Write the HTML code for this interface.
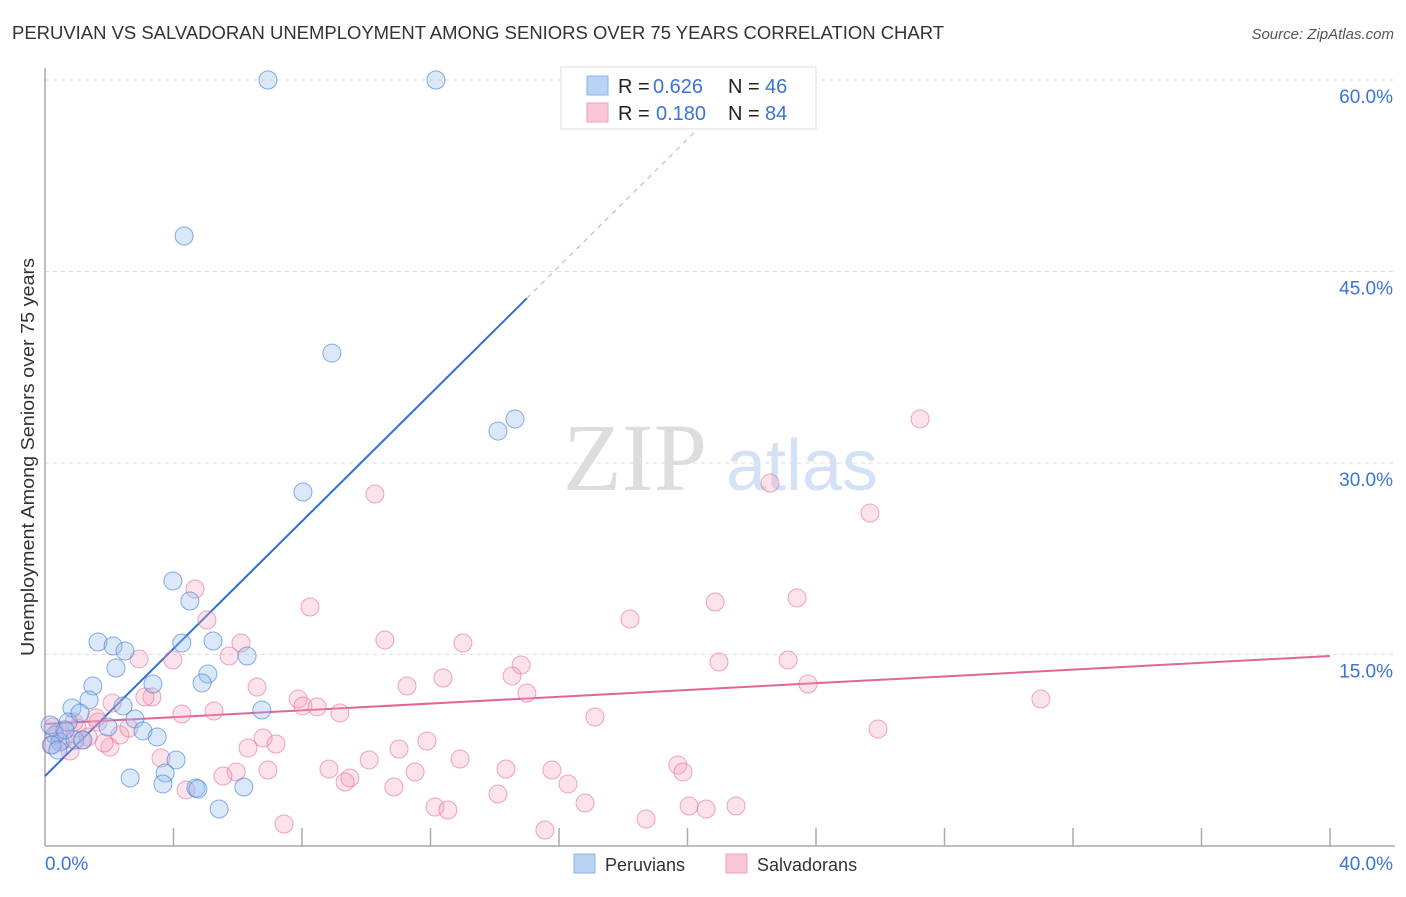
<!DOCTYPE html>
<html><head><meta charset="utf-8"><style>
body{margin:0;background:#fff;font-family:"Liberation Sans",sans-serif}
svg text{font-family:"Liberation Sans",sans-serif}
</style></head><body>
<svg id="chart" width="1406" height="892" xmlns="http://www.w3.org/2000/svg">
<text x="12" y="39" font-size="18" fill="#333" textLength="932" lengthAdjust="spacingAndGlyphs">PERUVIAN VS SALVADORAN UNEMPLOYMENT AMONG SENIORS OVER 75 YEARS CORRELATION CHART</text>
<text x="1394" y="39" font-size="15" fill="#555" text-anchor="end" font-style="italic">Source: ZipAtlas.com</text>
<text x="0" y="0" transform="translate(34,457) rotate(-90)" font-size="18" fill="#333" text-anchor="middle" textLength="398" lengthAdjust="spacingAndGlyphs">Unemployment Among Seniors over 75 years</text>
<g>
<text x="635" y="490" font-size="96" fill="#ddd" text-anchor="middle" font-family="Liberation Serif" style="font-family:'Liberation Serif',serif">ZIP</text>
<text x="802" y="490" font-size="72" fill="#d4e2f5" text-anchor="middle">atlas</text>
</g>
<g id="grid"></g><g id="axes"></g><g id="lines"></g><g id="pts"></g>
<g>
<rect x="561" y="67" width="255" height="62" fill="#fff" stroke="#ddd"/>
<rect x="587" y="76" width="21" height="19" fill="#b9d3f5" stroke="#8fb4e8"/>
<rect x="587" y="103" width="21" height="19" fill="#f9c7d6" stroke="#eea0b8"/>
<text x="618" y="93" font-size="20" fill="#222">R =</text>
<text x="653" y="93" font-size="20" fill="#3a74d4">0.626</text>
<text x="728" y="93" font-size="20" fill="#222">N =</text>
<text x="765" y="93" font-size="20" fill="#3a74d4">46</text>
<text x="618" y="120" font-size="20" fill="#222">R =</text>
<text x="656" y="120" font-size="20" fill="#3a74d4">0.180</text>
<text x="728" y="120" font-size="20" fill="#222">N =</text>
<text x="765" y="120" font-size="20" fill="#3a74d4">84</text>
</g>
<g>
<rect x="574" y="854" width="21" height="19" fill="#b9d3f5" stroke="#8fb4e8"/>
<text x="605" y="871" font-size="18" fill="#333">Peruvians</text>
<rect x="726" y="854" width="21" height="19" fill="#f9c7d6" stroke="#eea0b8"/>
<text x="757" y="871" font-size="18" fill="#333">Salvadorans</text>
</g>
</svg>
<script>
const yTicks=[15,30,45,60];
const yTickLabels=["15.0%","30.0%","45.0%","60.0%"];
const xTicks=[4,8,12,16,20,24,28,32,36,40];
const xAxisLabels=["0.0%","40.0%"];
const peruX=[6.94,12.17,4.33,8.93,14.10,14.63,8.03,3.98,4.51,1.65,2.12,2.49,4.26,5.23,6.29,2.21,5.07,1.49,3.36,4.89,1.37,0.84,2.43,6.75,0.72,2.80,1.96,3.05,3.49,4.08,2.65,3.74,3.67,4.70,4.76,6.19,5.42,1.09,0.31,0.47,0.22,0.93,1.18,0.62,0.16,0.40];
const peruY=[60.0,60.0,47.78,38.61,32.5,33.45,27.73,20.76,19.19,15.98,15.67,15.27,15.90,16.06,14.88,13.94,13.47,12.53,12.69,12.77,11.44,10.81,10.97,10.65,9.71,9.95,9.32,9.01,8.54,6.74,5.33,5.72,4.86,4.54,4.46,4.62,2.90,10.42,8.69,8.15,7.91,8.30,8.30,9.09,9.48,7.52];
const salvX=[27.24,10.27,22.57,25.68,4.67,8.25,5.04,18.21,20.86,23.41,6.10,10.58,13.01,3.98,2.93,5.73,14.82,20.98,23.13,12.39,11.27,14.54,23.75,6.60,7.88,3.33,3.11,5.26,4.26,8.03,8.47,9.18,15.00,17.12,31.00,25.93,2.09,6.79,7.19,6.32,3.61,2.02,1.84,11.89,12.92,11.02,10.09,14.35,15.78,19.70,19.86,8.84,6.94,5.95,5.54,9.49,9.34,10.86,11.52,14.10,16.28,16.81,20.05,20.58,21.51,18.71,12.14,12.54,7.44,15.56,4.39,1.00,1.59,1.15,0.56,0.40,0.78,0.25,0.19,2.33,2.61,1.34,1.65,0.90];
const salvY=[33.45,27.57,28.43,26.08,20.13,18.72,17.70,17.78,19.11,19.43,15.90,16.14,15.90,14.57,14.65,14.88,14.18,14.41,14.57,13.16,12.53,13.32,12.69,12.45,11.51,11.67,11.67,10.57,10.34,10.97,10.89,10.42,11.98,10.10,11.51,9.16,11.20,8.46,7.99,7.68,6.89,7.75,8.07,8.22,6.81,7.60,6.74,6.03,5.95,6.34,5.80,6.03,5.95,5.80,5.48,5.33,5.01,4.62,5.80,4.07,4.86,3.37,3.13,2.90,3.13,2.11,3.05,2.82,1.72,1.25,4.39,9.24,10.03,8.30,8.30,8.85,7.44,9.32,7.91,8.69,9.24,8.54,9.71,9.71];
const peruFit=[5.48,42.9];
const salvFit=[9.56,14.88];
const NS="http://www.w3.org/2000/svg";
const X=v=>45+v/40*1285, Y=v=>846-v*12.767;
function mk(tag,attrs,parent){const e=document.createElementNS(NS,tag);for(const k in attrs)e.setAttribute(k,attrs[k]);document.getElementById(parent).appendChild(e);return e;}
yTicks.forEach((t,i)=>{
 const g=mk('line',{x1:45,x2:1395,y1:Y(t),y2:Y(t),stroke:'#ddd','stroke-dasharray':'4,4'},'grid');
 
 
 const l=mk('text',{x:1393,y:Y(t)+23,'font-size':19,fill:'#3a74d4','text-anchor':'end'},'axes');
 l.textContent=yTickLabels[i];
 
 
});
const ya=mk('line',{x1:45,x2:45,y1:68,y2:846,stroke:'#aaa','stroke-width':1.5},'axes');


const xa=mk('line',{x1:45,x2:1395,y1:846,y2:846,stroke:'#aaa','stroke-width':1.5},'axes');


xTicks.forEach(t=>{
 const k=mk('line',{x1:X(t),x2:X(t),y1:828,y2:846,stroke:'#aaa','stroke-width':1.5},'axes');
 
 
});
[[0,'start',45],[1,'end',1393]].forEach(([i,a,x])=>{
 const l=mk('text',{x:x,y:870,'font-size':19,fill:'#3a74d4','text-anchor':a},'axes');
 l.textContent=xAxisLabels[i];
 
 
});
const slope=(peruFit[1]-peruFit[0])/15;
const b1=mk('line',{x1:X(0),y1:Y(peruFit[0]),x2:X(15),y2:Y(peruFit[1]),stroke:'#2d6fd6','stroke-width':2},'lines');


const xe=(60-peruFit[0])/slope;
const b2=mk('line',{x1:X(15),y1:Y(peruFit[1]),x2:X(xe-1.5),y2:Y(peruFit[0]+slope*(xe-1.5)),stroke:'#9bb8e6','stroke-width':1,'stroke-dasharray':'5,5'},'lines');


const p1=mk('line',{x1:X(0),y1:Y(salvFit[0]),x2:X(40),y2:Y(salvFit[1]),stroke:'#e0659a','stroke-width':2},'lines');


salvX.forEach((x,i)=>{
 const c=mk('circle',{cx:X(x),cy:Y(salvY[i]),r:9,fill:'rgba(244,160,186,0.3)',stroke:'rgba(226,110,150,0.6)','stroke-width':1},'pts');
 
 
});
peruX.forEach((x,i)=>{
 const c=mk('circle',{cx:X(x),cy:Y(peruY[i]),r:9,fill:'rgba(150,190,240,0.35)',stroke:'rgba(60,120,210,0.6)','stroke-width':1},'pts');
 
 
});
</script>
</body></html>
